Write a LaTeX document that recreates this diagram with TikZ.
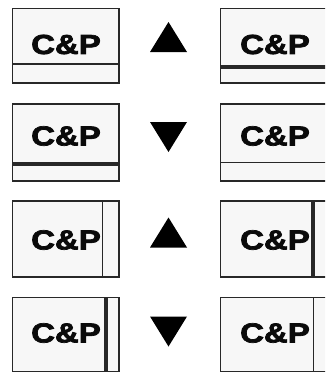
\documentclass[tikz,border=0pt]{standalone}
\usepackage{fontspec}
\setmainfont{Liberation Sans}
\newfontfamily\cpfont[FakeBold=2.5]{Liberation Sans}
\begin{document}
\begin{tikzpicture}[x=1pt, y=-1pt, font=\cpfont\fontsize{27.5}{32}\selectfont\bfseries]
        % Kolory
        \definecolor{boxLine}{RGB}{40, 40, 40}
        \definecolor{boxFill}{RGB}{247, 247, 247}
        \definecolor{textDark}{RGB}{10, 10, 10}

        \clip (0,0) rectangle (325,372);

        % Dane: wiersz / gora / dol / tekst / trojkat / kierunek
        \def\rows{
            1/  8.5/  83.0/ 44.5/  37.0/  1,
            2/104.0/ 181.0/136.0/ 137.0/ -1,
            3/201.0/ 277.0/240.0/ 232.5/  1,
            4/297.5/ 371.5/333.0/ 331.5/ -1
        }

        % Ramki i napisy
        \foreach \r/\t/\b/\ty/\cy/\d in \rows {
            \fill[boxFill, draw=boxLine, line width=1.2pt] (12.7,\t) rectangle (119,\b);
            \fill[boxFill, draw=boxLine, line width=1.2pt] (220.7,\t) rectangle (327,\b);
            \node[textDark, xscale=1.2] (cpL\r) at (66,\ty) {C\&P};
            \node[textDark, xscale=1.2] (cpR\r) at (275,\ty) {C\&P};
            % Trojkat
            \fill[black] (150,\cy+15*\d) -- (187,\cy+15*\d) -- (168.5,\cy-15*\d) -- cycle;
        }

        % Linie poziome: lewa / prawa / y / grubosc
        \foreach \xa/\xb/\y/\w in {12.7/119/64/2.2, 220.7/327/67/3.6,
                                   12.7/119/164/3.6, 220.7/327/162/1.0} {
            \draw[boxLine, line width=\w pt] (\xa,\y) -- (\xb,\y);
        }

        % Linie pionowe: x / gora / dol / grubosc
        \foreach \x/\ya/\yb/\w in {102/201/277/1.0, 313/201/277/3.6,
                                   106/297.5/371.5/3.6, 313/297.5/371.5/1.0} {
            \draw[boxLine, line width=\w pt] (\x,\ya) -- (\x,\yb);
        }
    \end{tikzpicture}
\end{document}
